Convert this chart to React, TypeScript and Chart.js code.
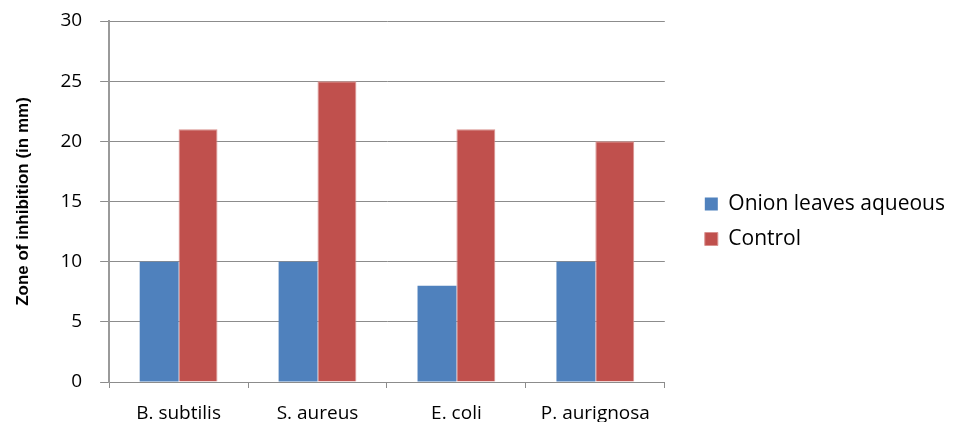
import React, { useEffect, useRef } from "react";
import { Chart, registerables } from "chart.js";

Chart.register(...registerables);

const categories = ["B. subtilis", "S. aureus", "E. coli", "P. aurignosa"];
const onionValues = [10, 10, 8, 10];
const controlValues = [21, 25, 21, 20];
const seriesNames = ["Onion leaves aqueous", "Control"];
const yTitle = "Zone of inhibition (in mm)";

export default function App() {
  const ref = useRef<HTMLCanvasElement | null>(null);

  useEffect(() => {
    document.body.style.margin = "0";
    const canvas = ref.current;
    if (!canvas) return;
    const chart = new Chart(canvas, {
      type: "bar",
      data: {
        labels: categories,
        datasets: [
          {
            label: seriesNames[0],
            data: onionValues,
            backgroundColor: "#4F81BD",
            borderWidth: 0,
          },
          {
            label: seriesNames[1],
            data: controlValues,
            backgroundColor: "#C0504D",
            borderColor: "#D9928F",
            borderWidth: 1,
          },
        ],
      },
      options: {
        animation: false,
        responsive: false,
        maintainAspectRatio: false,
        datasets: { bar: { categoryPercentage: 0.56, barPercentage: 1 } },
        layout: { padding: { top: 21, left: 13, right: 14, bottom: 0 } },
        plugins: {
          tooltip: { enabled: false },
          legend: {
            position: "right",
            align: "center",
            maxWidth: 400,
            labels: {
              boxWidth: 13,
              boxHeight: 13,
              padding: 14,
              color: "#000",
              font: { family: "Open Sans", size: 21 },
            },
          },
        },
        scales: {
          x: {
            offset: true,
            grid: {
              display: true,
              drawOnChartArea: false,
              drawTicks: true,
              tickLength: 6,
              color: "#8c8c8c",
              offset: true,
            },
            border: { display: true, color: "#8c8c8c", width: 1 },
            ticks: {
              color: "#000",
              padding: 14,
              font: { family: "Open Sans", size: 19 },
              maxRotation: 0,
            },
            afterFit: (s: any) => {
              s.height = 40;
              s.paddingBottom = 0;
            },
          },
          y: {
            min: 0,
            max: 30,
            ticks: {
              stepSize: 5,
              color: "#000",
              padding: 18,
              font: { family: "Open Sans", size: 19 },
            },
            grid: { color: "#8c8c8c", tickLength: 9, lineWidth: 1 },
            border: { display: true, color: "#9a9a9a", width: 2 },
            title: {
              display: true,
              text: yTitle,
              color: "#000",
              padding: { top: 0, bottom: 9 },
              font: { family: "Liberation Sans", size: 17, weight: "bold" },
            },
            afterFit: (s: any) => {
              s.paddingTop = 0;
              s.paddingBottom = 0;
            },
          },
          gap: {
            type: "linear",
            position: "right",
            display: true,
            grid: { display: false },
            border: { display: false },
            ticks: { display: false },
            afterFit: (s: any) => {
              s.width = 26;
              s.paddingTop = 0;
              s.paddingBottom = 0;
            },
          },
        },
      },
    });
    return () => chart.destroy();
  }, []);

  return (
    <div style={{ width: 969, height: 422 }}>
      <canvas ref={ref} width={969} height={422} style={{ display: "block" }} />
    </div>
  );
}
